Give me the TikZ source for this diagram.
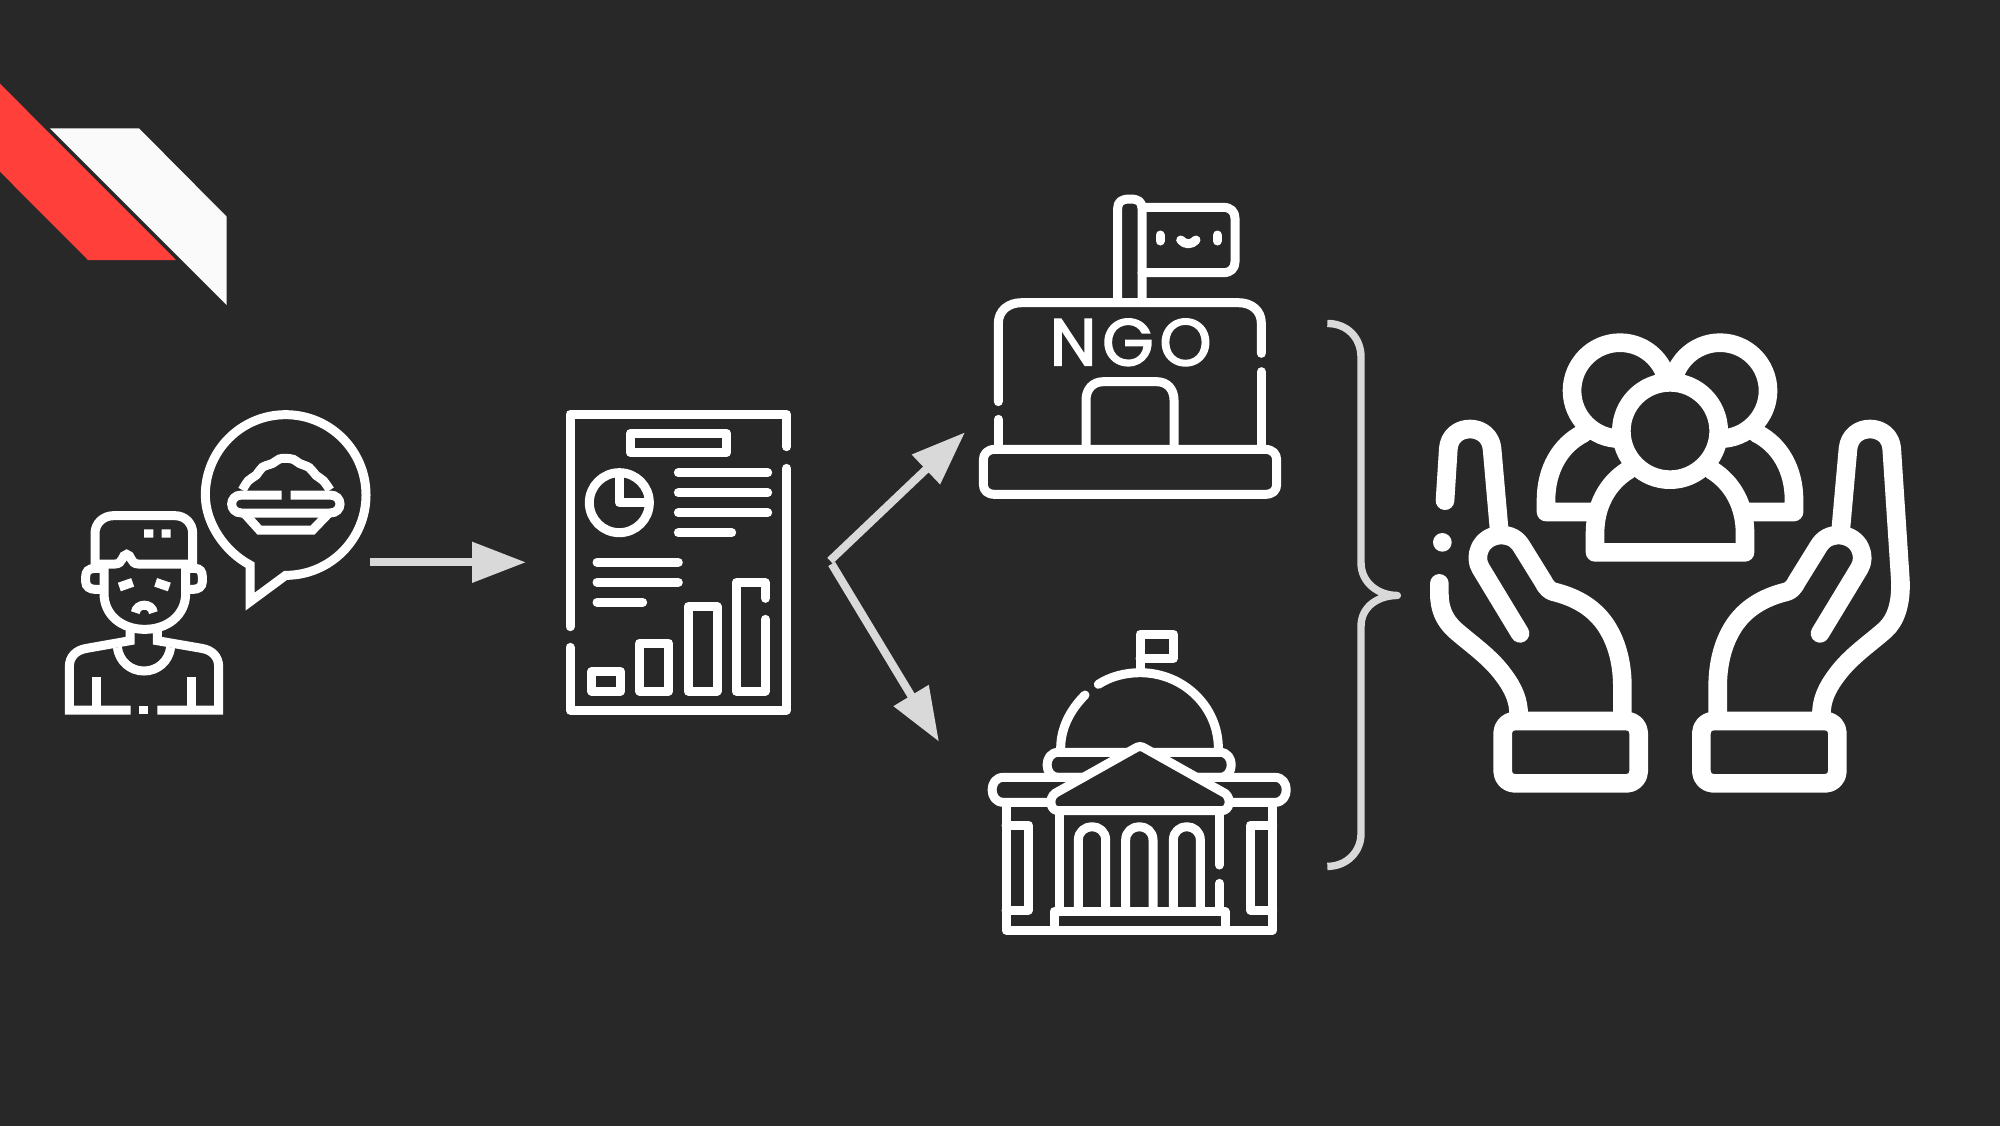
\documentclass[tikz,border=0pt]{standalone}
\usepackage{fontspec}
\usetikzlibrary{arrows.meta}
\newfontfamily\ngofont[FakeBold=2.5,LetterSpace=9]{Poppins}
\definecolor{bgc}{HTML}{282828}
\definecolor{redc}{HTML}{FF3F3A}
\definecolor{paperc}{HTML}{FAFAFA}
\definecolor{greyc}{HTML}{D9D9D9}
\tikzset{
  zoomed/.style={x=0.166667pt,y=-0.166667pt},
  fine/.style={draw=white,line width=4.5pt,line cap=round,line join=round},
  sharp/.style={draw=white,line width=4.5pt,line cap=butt,line join=miter},
  bold/.style={draw=white,line width=9.33pt,line cap=round,line join=round},
  conn/.style={draw=greyc,fill=greyc,line width=4pt,-{Triangle[length=27pt,width=19.5pt]}},
  bracepath/.style={draw=greyc,line width=3.7pt,line join=round},
}
\begin{document}
\begin{tikzpicture}[x=0.5pt,y=-0.5pt]
\useasboundingbox (0,0) rectangle (2000,1125);
\fill[bgc] (-10,-10) rectangle (2010,1135);
% corner ribbon
\fill[redc] (0,83.7) -- (176,260) -- (88,260) -- (0,171.7) -- cycle;
\fill[paperc] (50,128.3) -- (139,128.3) -- (226.7,216.7) -- (226.7,305) -- cycle;
% person
\begin{scope}[shift={(40,390)},zoomed]
\draw[sharp] (165,525) -- (165,430) .. controls (165,400) and (190,377) .. (220,377) -- (405,377) .. controls (435,377) and (458,400) .. (458,430) -- (458,525);
\draw[sharp] (165,522) -- (225,522) .. controls (250,522) and (245,493) .. (260,493) .. controls (275,493) and (270,522) .. (295,522) -- (458,522);
\draw[sharp] (192,535) -- (165,535) .. controls (145,535) and (137,545) .. (137,560) -- (137,575) .. controls (137,590) and (150,598) .. (165,598) -- (192,598);
\draw[sharp] (437,535) -- (465,535) .. controls (480,535) and (487,545) .. (487,560) -- (487,575) .. controls (487,590) and (475,598) .. (460,598) -- (437,598);
\draw[sharp] (192,525) -- (192,610) .. controls (192,675) and (245,718) .. (314,718) .. controls (383,718) and (437,675) .. (437,610) -- (437,525);
\draw[sharp] (238,591) -- (278,577);
\draw[sharp] (347,577) -- (388,591);
\draw[sharp] (286,668) .. controls (290,638) and (336,638) .. (340,668);
\fill[white] (312,418) rectangle (340,443) (365,418) rectangle (392,443);
\draw[sharp] (270,722) -- (270,752) -- (140,775) .. controls (108,780) and (88,800) .. (88,830) -- (88,960) -- (272,960);
\draw[sharp] (352,722) -- (352,752) -- (485,775) .. controls (516,780) and (536,800) .. (536,830) -- (536,960) -- (352,960);
\draw[sharp] (232,772) .. controls (238,815) and (272,843) .. (312,843) .. controls (352,843) and (386,815) .. (392,772);
\draw[sharp] (168,862) -- (168,950);
\draw[sharp] (455,862) -- (455,950);
\fill[white] (298,947) rectangle (325,973);
\draw[sharp] (737,556) .. controls (870,556) and (978,448) .. (978,315) .. controls (978,182) and (870,74) .. (737,74) .. controls (604,74) and (496,182) .. (496,315) .. controls (496,400) and (555,485) .. (630,525) -- (630,635) -- cycle;
\draw[sharp] plot[smooth,tension=0.6] coordinates {(607,300) (625,272) (649,255) (667,232) (698,220) (718,207) (737,205) (760,208) (778,220) (808,233) (828,256) (850,272) (870,300)};
\draw[sharp] (725,315) -- (605,315) .. controls (565,315) and (565,369) .. (605,369) -- (870,369) .. controls (910,369) and (910,315) .. (870,315) -- (752,315);
\draw[sharp] (613,370) -- (658,420) -- (818,420) -- (866,370);
\end{scope}
% report
\begin{scope}[shift={(550,400)},zoomed]
\draw[fine] (710,140) -- (710,43) -- (60,43) -- (60,680);
\draw[fine] (60,742) -- (60,930) -- (710,930) -- (710,205);
\draw[fine] (241,100) rectangle (530,158);
\draw[fine] (385,218) -- (653,218) (385,278) -- (653,278) (385,338) -- (653,338) (385,398) -- (545,398);
\draw[fine] (141,487) -- (385,487) (141,547) -- (385,547) (141,607) -- (278,607);
\draw[fine] (208,308) circle[radius=90];
\draw[fine] (208,225) -- (208,308) -- (292,308);
\draw[fine] (125,815) rectangle (212,873);
\draw[fine] (269,729) rectangle (356,873);
\draw[fine] (414,620) rectangle (501,873);
\draw[fine] (646,595) -- (646,548) -- (558,548) -- (558,873) -- (646,873) -- (646,658);
\end{scope}
% NGO building
\begin{scope}[shift={(960,180)},zoomed]
\draw[fine] (473,360) -- (473,85) .. controls (473,65) and (485,57) .. (510,57) .. controls (535,57) and (546,65) .. (546,85) -- (546,360);
\draw[fine] (546,82) -- (790,82) .. controls (812,82) and (825,95) .. (825,115) -- (825,245) .. controls (825,265) and (812,278) .. (790,278) -- (546,278);
\draw[fine] (600,165) -- (600,183) (772,165) -- (772,183);
\draw[fine] (662,180) .. controls (675,195) and (695,195) .. (708,180);
\draw[fine] (115,665) -- (115,430) .. controls (115,392) and (145,368) .. (185,368) -- (835,368) .. controls (875,368) and (904,392) .. (904,430) -- (904,520);
\draw[fine] (904,575) -- (904,800) (115,718) -- (115,800);
\draw[fine] (378,800) -- (378,660) .. controls (378,628) and (398,605) .. (430,605) -- (590,605) .. controls (622,605) and (642,628) .. (642,660) -- (642,800);
\draw[fine] (105,808) -- (915,808) .. controls (938,808) and (950,822) .. (950,840) -- (950,912) .. controls (950,932) and (938,943) .. (915,943) -- (105,943) .. controls (82,943) and (70,932) .. (70,912) -- (70,840) .. controls (70,822) and (82,808) .. (105,808) -- cycle;
\node[text=white,inner sep=0pt,font=\ngofont\fontsize{33}{33}\selectfont] (ngolabel) at (512,487) {NGO};
\end{scope}
% government building
\begin{scope}[shift={(970,620)},zoomed]
\draw[fine] (510,145) -- (510,43) -- (610,43) -- (610,115) -- (510,115);
\draw[fine] (745,385) .. controls (745,260) and (640,158) .. (510,158) .. controls (465,158) and (420,170) .. (385,193);
\draw[fine] (345,225) .. controls (300,270) and (272,325) .. (272,385);
\draw[fine] (474,397) -- (265,397) .. controls (220,397) and (220,472) .. (265,472) -- (340,472);
\draw[fine] (546,397) -- (750,397) .. controls (795,397) and (795,472) .. (750,472) -- (680,472);
\draw[fine] (340,472) -- (100,472) .. controls (55,472) and (55,547) .. (100,547) -- (235,547);
\draw[fine] (680,472) -- (915,472) .. controls (960,472) and (960,547) .. (915,547) -- (780,547);
\draw[fine] (495,385) .. controls (505,378) and (515,378) .. (525,385) -- (765,520) .. controls (785,535) and (780,572) .. (755,572) -- (265,572) .. controls (240,572) and (235,535) .. (255,520) -- cycle;
\draw[fine] (108,550) -- (108,930) -- (908,930) -- (908,550);
\draw[fine] (268,575) -- (268,875) (748,575) -- (748,735) (748,790) -- (748,875);
\draw[fine] (252,930) -- (252,875) -- (765,875) -- (765,930);
\draw[fine] (108,615) -- (175,615) -- (175,870) -- (108,870);
\draw[fine] (908,615) -- (842,615) -- (842,870) -- (908,870);
\draw[fine] (325,870) -- (325,660) .. controls (325,635) and (345,620) .. (366,620) .. controls (387,620) and (407,635) .. (407,660) -- (407,870);
\draw[fine] (467,870) -- (467,660) .. controls (467,635) and (487,620) .. (508,620) .. controls (529,620) and (549,635) .. (549,660) -- (549,870);
\draw[fine] (610,870) -- (610,660) .. controls (610,635) and (630,620) .. (650,620) .. controls (671,620) and (691,635) .. (691,660) -- (691,870);
\end{scope}
% people in hands
\begin{scope}[shift={(1420,320)},zoomed]
\draw[bold] (600,212) circle[radius=144];
\draw[bold] (900,212) circle[radius=144];
\draw[bold] (490,340) .. controls (420,375) and (378,450) .. (378,540) -- (378,576) -- (525,576);
\draw[bold] (1010,340) .. controls (1080,375) and (1122,450) .. (1122,540) -- (1122,576) -- (975,576);
\draw[bold] (625,450) .. controls (560,490) and (525,560) .. (525,640) -- (525,697) -- (975,697) -- (975,640) .. controls (975,560) and (940,490) .. (875,450);
\draw[bold,fill=bgc] (750,333) circle[radius=146];
% left hand
\draw[bold] (75,542) -- (85,385) .. controls (88,350) and (115,327) .. (150,327) .. controls (185,327) and (212,350) .. (216,385) -- (237,625);
\fill[white] (67,667) circle[radius=28];
\draw[bold] (58,790) -- (58,820) .. controls (58,865) and (72,900) .. (105,930) .. controls (150,970) and (210,1010) .. (250,1065) .. controls (280,1105) and (296,1140) .. (296,1185);
\draw[bold] (300,940) -- (182,745) .. controls (160,710) and (180,650) .. (240,645) .. controls (270,645) and (290,655) .. (305,680) -- (370,785) .. controls (380,805) and (390,812) .. (400,815) .. controls (470,832) and (525,865) .. (560,920) .. controls (595,975) and (607,1040) .. (607,1100) -- (607,1190);
\draw[bold,rounded corners=6pt] (248,1203) rectangle (656,1390);
% right hand
\draw[bold] (1263,620) -- (1284,385) .. controls (1288,350) and (1315,327) .. (1350,327) .. controls (1385,327) and (1412,350) .. (1415,385) -- (1441,780) .. controls (1444,850) and (1428,900) .. (1395,930) .. controls (1350,970) and (1290,1010) .. (1250,1065) .. controls (1220,1105) and (1204,1140) .. (1204,1185);
\draw[bold] (1200,940) -- (1318,745) .. controls (1340,710) and (1320,650) .. (1260,645) .. controls (1230,645) and (1210,655) .. (1195,680) -- (1130,785) .. controls (1120,805) and (1110,812) .. (1100,815) .. controls (1030,832) and (975,865) .. (940,920) .. controls (905,975) and (893,1040) .. (893,1100) -- (893,1190);
\draw[bold,rounded corners=6pt] (844,1203) rectangle (1252,1390);
\end{scope}
% connectors
\coordinate (a1s) at (370,562.3);
\coordinate (a1e) at (526,562.3);
\coordinate (a2s) at (830,560.7);
\coordinate (a2e) at (965,432.3);
\coordinate (a3s) at (831.7,564);
\coordinate (a3e) at (939,741.7);
\draw[conn] (a1s) -- (a1e);
\draw[conn] (a2s) -- (a2e);
\draw[conn] (a3s) -- (a3e);
% brace
\begin{scope}[shift={(1310,310)},x=0.166667pt,y=-0.181818pt]
\draw[bracepath] (52,37) .. controls (110,37) and (153,75) .. (153,130) -- (153,695) .. controls (153,750) and (205,785) .. (262,785) .. controls (205,785) and (153,815) .. (153,870) -- (153,1440) .. controls (153,1490) and (110,1530) .. (52,1530);
\end{scope}
\end{tikzpicture}
\end{document}
